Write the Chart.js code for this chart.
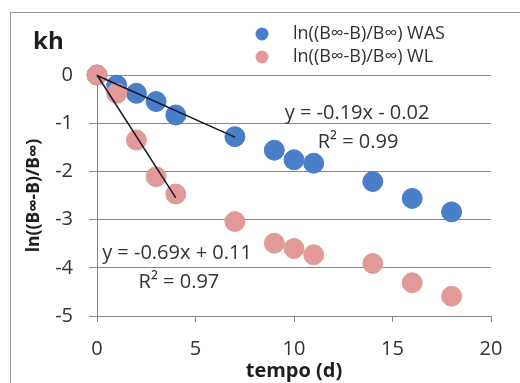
<!DOCTYPE html>
<html>
<head>
<meta charset="utf-8">
<script src="https://cdn.jsdelivr.net/npm/chart.js@4.4.1/dist/chart.umd.min.js"></script>
<style>
html, body { margin: 0; padding: 0; background: #fff; overflow: hidden; }
#frame { position: absolute; left: 10px; top: 12px; width: 600px; height: 500px; border: 1px solid #9a9a9a; }
#wrap { position: absolute; left: 0; top: 0; width: 520px; height: 383px; }
</style>
</head>
<body>
<div id="frame"></div>
<div id="wrap"><canvas id="chart1" width="520" height="383"></canvas></div>
<script>
//----------------- data -------------------------
const days = [0, 1, 2, 3, 4, 7, 9, 10, 11, 14, 16, 18];
const lnWAS = [0, -0.21, -0.38, -0.55, -0.83, -1.28, -1.56, -1.76, -1.83, -2.21, -2.56, -2.84];
const lnWL = [0, -0.38, -1.35, -2.11, -2.47, -3.04, -3.49, -3.60, -3.73, -3.91, -4.31, -4.59];

const trendWASx = [0, 7];
const trendWASy = [-0.01, -1.29];
const trendWLx = [0, 4];
const trendWLy = [0, -2.55];

const seriesNames = ['ln((B∞-B)/B∞) WAS', 'ln((B∞-B)/B∞) WL'];
const eqWAS = ['y = -0.19x - 0.02', 'R² = 0.99'];
const eqWL = ['y = -0.69x + 0.11', 'R² = 0.97'];

const xTicks = [0, 5, 10, 15, 20];
const yTicks = [0, -1, -2, -3, -4, -5];

const blue = '#4a7ec8';
const pink = '#e29a98';
const gridColor = '#858585';
const textColor = '#333333';

Chart.defaults.font.family = "'Open Sans', sans-serif";
Chart.defaults.color = textColor;

function toPoints(xs, ys) {
    return xs.map((x, i) => ({ x: x, y: ys[i] }));
}

//-------------- extra texts: title, legend, equations ----------------
const extras = {
    id: 'extras',
    afterDraw(chart) {
        const { ctx, scales: { x, y } } = chart;
        ctx.save();
        ctx.textBaseline = 'middle';
        ctx.textAlign = 'left';
        ctx.fillStyle = '#1e1e1e';
        ctx.font = "bold 24px 'Open Sans'";
        ctx.fillText('kh', 33, 42);

        // legend
        ctx.font = "18px 'Open Sans'";
        [[seriesNames[0], blue, 34], [seriesNames[1], pink, 57]].forEach(([txt, col, yy]) => {
            ctx.beginPath();
            ctx.arc(262, yy, 6.5, 0, Math.PI * 2);
            ctx.fillStyle = col;
            ctx.fill();
            ctx.fillStyle = textColor;
            ctx.fillText(txt, 293, yy);
        });

        // trendline equations
        ctx.font = "20px 'Open Sans'";
        ctx.textAlign = 'center';
        ctx.fillText(eqWAS[0], x.getPixelForValue(13.2), y.getPixelForValue(-0.8));
        ctx.fillText(eqWAS[1], x.getPixelForValue(13.25), y.getPixelForValue(-1.4));
        ctx.fillText(eqWL[0], x.getPixelForValue(4.06), y.getPixelForValue(-3.7));
        ctx.fillText(eqWL[1], x.getPixelForValue(4.16), y.getPixelForValue(-4.3));
        ctx.restore();
    }
};

//-------------- chart ----------------
const config = {
    type: 'scatter',
    data: {
        datasets: [
            {
                label: 'trend WAS',
                data: toPoints(trendWASx, trendWASy),
                showLine: true,
                borderColor: '#15182a',
                borderWidth: 1.5,
                pointRadius: 0,
                clip: false,
                order: 0
            },
            {
                label: 'trend WL',
                data: toPoints(trendWLx, trendWLy),
                showLine: true,
                borderColor: '#15182a',
                borderWidth: 1.5,
                pointRadius: 0,
                clip: false,
                order: 0
            },
            {
                label: seriesNames[1],
                data: toPoints(days, lnWL),
                backgroundColor: pink,
                borderColor: pink,
                pointRadius: 10,
                clip: false,
                order: 1
            },
            {
                label: seriesNames[0],
                data: toPoints(days, lnWAS),
                backgroundColor: blue,
                borderColor: blue,
                pointRadius: 10,
                clip: false,
                order: 2
            }
        ]
    },
    options: {
        responsive: false,
        animation: false,
        devicePixelRatio: 1,
        layout: { padding: { left: 20, top: 75, right: 29, bottom: 0 } },
        plugins: {
            legend: { display: false },
            tooltip: { enabled: false }
        },
        scales: {
            x: {
                type: 'linear',
                min: 0,
                max: 20,
                afterBuildTicks: (s) => { s.ticks = xTicks.map(v => ({ value: v })); },
                afterFit: (s) => { s.height = 67; },
                grid: { drawOnChartArea: false, drawTicks: true, tickLength: 6, color: gridColor },
                border: { color: gridColor },
                ticks: { font: { size: 20 }, padding: 15, color: textColor },
                title: { display: true, text: 'tempo (d)', font: { size: 20, weight: 'bold' }, color: '#1e1e1e', padding: { top: 0, bottom: 0 } }
            },
            y: {
                type: 'linear',
                min: -5,
                max: 0,
                afterBuildTicks: (s) => { s.ticks = yTicks.map(v => ({ value: v })); },
                afterFit: (s) => { s.width = 77; },
                grid: { color: gridColor, tickLength: 8 },
                border: { color: gridColor },
                ticks: { font: { size: 20 }, padding: 16, color: textColor },
                title: { display: true, text: 'ln((B∞-B)/B∞)', font: { size: 17.5, weight: 'bold' }, color: '#1e1e1e', padding: { top: 4, bottom: 0 } }
            }
        }
    },
    plugins: [extras]
};

const myChart = new Chart(document.getElementById('chart1').getContext('2d'), config);
</script>
</body>
</html>
